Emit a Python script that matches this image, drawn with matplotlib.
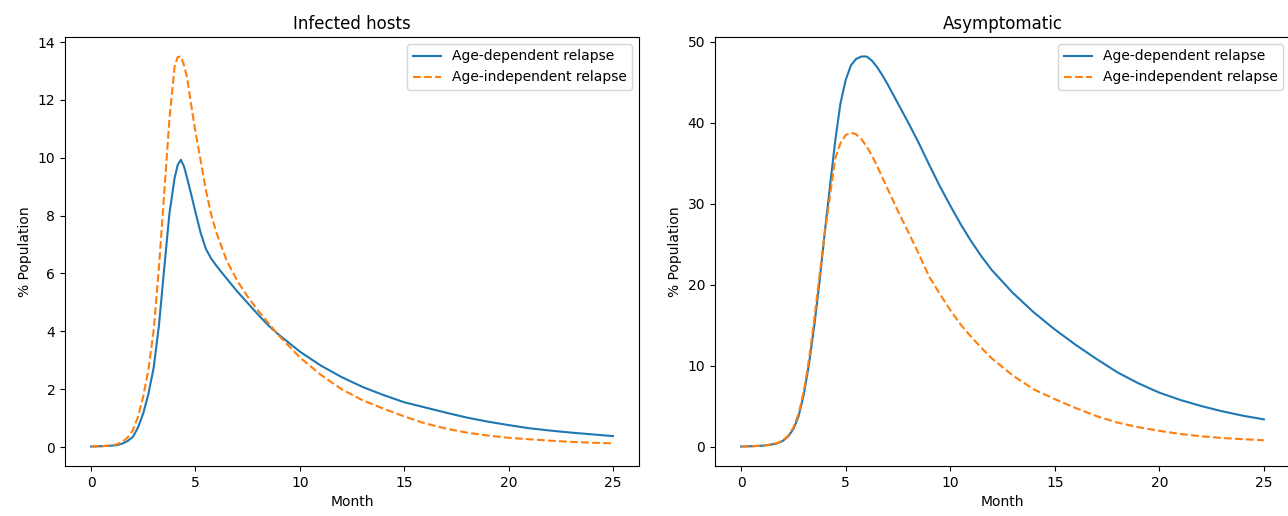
import matplotlib
matplotlib.use("Agg")
import matplotlib.pyplot as plt

# Infected hosts panel: months at which values were read, and % population
months_inf = [0, 0.5, 1, 1.25, 1.5, 1.75, 2, 2.25, 2.5, 2.75, 3, 3.25, 3.5,
              3.75, 4, 4.15, 4.3, 4.45, 4.6, 4.8, 5, 5.25, 5.5, 5.75, 6, 6.5,
              7, 7.5, 8, 8.5, 9, 10, 11, 12, 13, 14, 15, 16, 17, 18, 19, 20,
              21, 22, 23, 24, 25]
infected_dep = [0.02, 0.03, 0.05, 0.07, 0.12, 0.21, 0.35, 0.68, 1.17, 1.85,
                2.75, 4.2, 6.15, 8.05, 9.3, 9.75, 9.93, 9.7, 9.3, 8.72, 8.12,
                7.4, 6.85, 6.52, 6.27, 5.82, 5.38, 4.98, 4.58, 4.2, 3.88, 3.3,
                2.82, 2.42, 2.08, 1.8, 1.55, 1.37, 1.19, 1.02, 0.88, 0.76,
                0.65, 0.57, 0.5, 0.44, 0.38]
infected_indep = [0.02, 0.03, 0.06, 0.1, 0.18, 0.33, 0.58, 1.05, 1.75, 2.7,
                  4.05, 6.2, 8.75, 11.3, 13.15, 13.48, 13.5, 13.2, 12.78, 11.8,
                  10.9, 9.9, 8.88, 8.05, 7.42, 6.44, 5.75, 5.2, 4.72, 4.28,
                  3.85, 3.1, 2.5, 2.0, 1.62, 1.33, 1.06, 0.82, 0.64, 0.5, 0.4,
                  0.32, 0.27, 0.22, 0.18, 0.15, 0.13]

# Asymptomatic panel
months_asym = [0, 0.5, 1, 1.25, 1.5, 1.75, 2, 2.25, 2.5, 2.75, 3, 3.25, 3.5,
               3.75, 4, 4.25, 4.5, 4.75, 5, 5.25, 5.5, 5.75, 6, 6.25, 6.5,
               6.75, 7, 7.25, 7.5, 7.75, 8, 8.5, 9, 9.5, 10, 10.5, 11, 11.5,
               12, 13, 14, 15, 16, 17, 18, 19, 20, 21, 22, 23, 24, 25]
asym_dep = [0.05, 0.08, 0.15, 0.22, 0.32, 0.45, 0.75, 1.3, 2.2, 3.8, 6.5,
            10.3, 15.0, 20.4, 26.5, 32.2, 37.8, 42.4, 45.3, 47.1, 47.9, 48.2,
            48.2, 47.7, 46.9, 45.9, 44.8, 43.6, 42.4, 41.2, 40.0, 37.5, 34.8,
            32.2, 29.8, 27.5, 25.4, 23.5, 21.8, 19.0, 16.6, 14.5, 12.6, 10.85,
            9.2, 7.85, 6.7, 5.8, 5.05, 4.4, 3.85, 3.4]
asym_indep = [0.05, 0.08, 0.15, 0.22, 0.33, 0.5, 0.8, 1.4, 2.4, 4.1, 6.9,
              10.9, 15.8, 21.2, 26.4, 31.0, 35.6, 37.5, 38.5, 38.8, 38.6, 38.0,
              37.1, 36.0, 34.7, 33.3, 31.9, 30.5, 29.1, 27.8, 26.5, 23.8, 21.0,
              18.9, 16.9, 15.1, 13.6, 12.2, 10.9, 8.8, 7.1, 5.9, 4.8, 3.8, 3.0,
              2.43, 1.98, 1.6, 1.31, 1.1, 0.95, 0.82]

titles = ["Infected hosts", "Asymptomatic"]
labels = ["Age-dependent relapse", "Age-independent relapse"]

fig = plt.figure(figsize=(12.88, 5.16), dpi=100)
ax1 = fig.add_axes([65 / 1288, 50 / 516, 574 / 1288, 429 / 516])
ax2 = fig.add_axes([715 / 1288, 50 / 516, 575 / 1288, 429 / 516])

panels = [(ax1, months_inf, infected_dep, infected_indep, titles[0]),
          (ax2, months_asym, asym_dep, asym_indep, titles[1])]
for ax, t, dep, indep, title in panels:
    ax.plot(t, dep, color="tab:blue", label=labels[0])
    ax.plot(t, indep, color="tab:orange", linestyle="--", label=labels[1])
    ax.set_title(title)
    ax.set_xlabel("Month")
    ax.set_ylabel("% Population")
    ax.legend(loc="upper right")

fig.savefig("out.png", dpi=100)
